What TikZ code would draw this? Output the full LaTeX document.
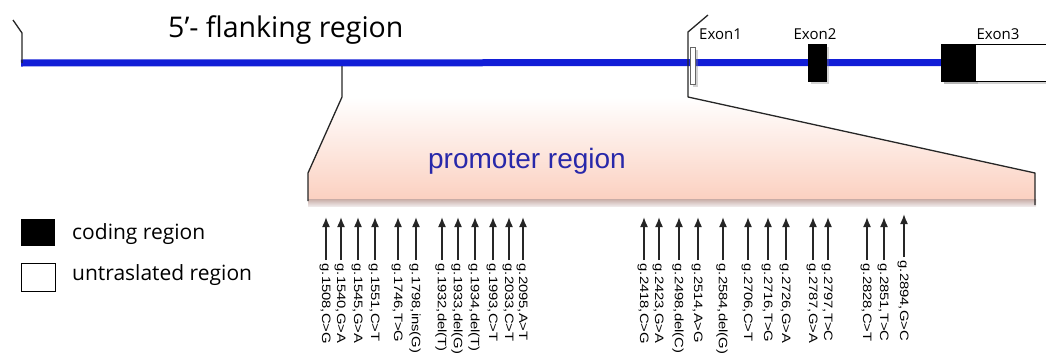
\documentclass[tikz,border=0pt]{standalone}
\usepackage{fontspec}
\usepackage{graphicx}
\setmainfont{Liberation Sans}
\newfontfamily\osans{Open Sans}
\usetikzlibrary{arrows.meta,shadows}
\definecolor{geneblue}{RGB}{18,30,215}
\definecolor{promopink}{RGB}{251,208,192}
\definecolor{promotext}{RGB}{40,40,170}
\definecolor{shadowtop}{RGB}{200,172,166}
\definecolor{shadowbot}{RGB}{238,232,232}
\begin{document}
\begin{tikzpicture}[x=1pt,y=-1pt,
  bracket/.style={line width=1.3pt, black!85, line join=round},
  exonbox/.style={draw=black, line width=0.4pt, inner sep=0pt,
    drop shadow={opacity=0.35,shadow xshift=2.5pt,shadow yshift=-2.5pt}},
  mut/.style={line width=1.6pt, black!85, -{Latex[length=10pt,width=8pt]}},
  mlab/.style={rotate=-90, anchor=west, font=\fontsize{14.8}{16}\selectfont, inner sep=0.5pt},
  exlab/.style={font=\osans\fontsize{15}{15}\selectfont, inner sep=0pt},
  bigsans/.style={font=\osans\fontsize{28.5}{30}\selectfont, inner sep=0pt, anchor=west},
  legtext/.style={font=\osans\fontsize{21}{22}\selectfont, inner sep=0pt, anchor=west},
  legbox/.style={minimum width=34pt, minimum height=27pt, inner sep=0pt, anchor=north west},
  ]
\useasboundingbox (0,0) rectangle (1046,356);

% promoter region shape
\shade[top color=white, bottom color=promopink]
  (342,97) -- (688,97) -- (1035,173) -- (1035,200) -- (308,200) -- (308,173) -- cycle;
\shade[top color=shadowtop, bottom color=shadowbot] (308,199) rectangle (1036,206);
\node[font=\fontsize{28}{30}\selectfont, text=promotext, inner sep=0pt] (promo) at (527,161) {promoter region};

% gene line
\coordinate (gstart) at (21,63);
\node[exonbox, fill=black, minimum width=34pt, minimum height=37pt] (ex3c) at (958,62.5) {};
\draw[line width=7pt, geneblue] (gstart) -- (ex3c.west);
\node[exonbox, fill=black, minimum width=34pt, minimum height=37pt] (ex3c) at (958,62.5) {};
\node[exonbox, fill=white, minimum width=75pt, minimum height=37pt] (ex3u) at (1012.5,62.5) {};
\node[exonbox, fill=black, minimum width=18pt, minimum height=37pt] (ex2) at (817,62.5) {};
\node[exonbox, fill=white, draw=black!60, minimum width=5pt, minimum height=37pt] (ex1) at (692.5,66) {};

\node[exlab, anchor=west] (ex1l) at (699,34) {Exon1};
\node[exlab] (ex2l) at (815,34) {Exon2};
\node[exlab] (ex3l) at (998,34) {Exon3};
\node[bigsans] (flank) at (168,30) {5’- flanking region};

% brackets
\coordinate (lb1) at (13,20);
\coordinate (lb2) at (22,33);
\draw[bracket] (lb1) -- (lb2) -- (lb2 |- gstart);
\coordinate (pl1) at (342,66);
\coordinate (pl2) at (342,97);
\coordinate (pl3) at (308,173);
\coordinate (pl4) at (308,201);
\draw[bracket] (pl1) -- (pl2) -- (pl3) -- (pl4);
\coordinate (pr0) at (708,15);
\coordinate (pr1) at (688,32);
\coordinate (pr2) at (688,97);
\coordinate (pr3) at (1035,173);
\coordinate (pr4) at (1035,205);
\draw[bracket] (pr0) -- (pr1) -- (pr2) -- (pr3) -- (pr4);

% mutations
\foreach \x/\dy/\t [count=\i] in {
  326/0/{g.1508,C>G}, 341/0/{g.1540,G>A}, 358/0/{g.1545,G>A}, 375/0/{g.1551,C>T},
  398/0/{g.1746,T>G}, 416/0/{g.1798,ins(G)}, 442/0/{g.1932,del(T)}, 458/0/{g.1933,del(G)},
  475/0/{g.1934,del(T)}, 493/0/{g.1993,C>T}, 509/0/{g.2033,C>T}, 523/0/{g.2095,A>T},
  644/0/{g.2418,C>G}, 659/0/{g.2423,G>A}, 679/0/{g.2498,del(C)}, 698/0/{g.2514,A>G},
  723/0/{g.2584,del(G)}, 748/0/{g.2706,C>T}, 768/0/{g.2716,T>G}, 786/0/{g.2726,G>A},
  813/0/{g.2787,G>A}, 828/0/{g.2797,T>C}, 867/0/{g.2828,C>T}, 884/0/{g.2851,T>C},
  904/-3/{g.2894,G>C}}{
  \node[mlab] (m\i) at (\x-1,263+\dy) {\scalebox{1}[0.82]{\t}};
  \coordinate (b\i) at (\x,260+\dy);
  \coordinate (t\i) at (\x,217+\dy);
  \draw[mut] (b\i) -- (t\i);
}

% legend
\node[legbox, fill=black] (legcb) at (21,219) {};
\node[legbox, draw=black, line width=1pt, fill=white, minimum height=28pt] (legub) at (21,263) {};
\node[legtext] (legc) at (72,234) {coding region};
\node[legtext] (legu) at (72,275) {untraslated region};
\end{tikzpicture}
\end{document}
